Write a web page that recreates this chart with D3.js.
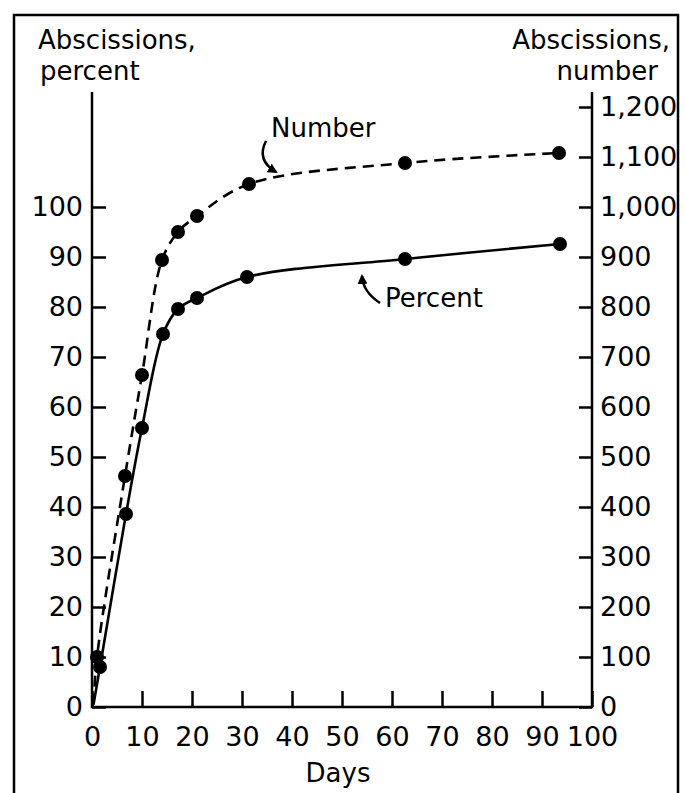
<!DOCTYPE html>
<html>
<head>
<meta charset="utf-8">
<script src="https://cdn.jsdelivr.net/npm/d3@7"></script>
<style>
  body { margin: 0; background: #fff; }
  svg text { font-family: "DejaVu Sans", sans-serif; fill: #000; }
</style>
</head>
<body>
<svg id="chart"></svg>
<script>
// data
const numberDays = [1, 6.6, 10, 14, 17.2, 21, 31.4, 62.6, 93.4];
const numberValues = [100, 462, 664, 894, 950, 982, 1046, 1088, 1108];
const percentDays = [1.6, 6.8, 10, 14.2, 17.2, 21, 31, 62.6, 93.6];
const percentValues = [8, 38.6, 55.8, 74.6, 79.6, 81.8, 86, 89.6, 92.6];
// both fitted curves start at the origin
const curveStart = [0.3, 0.5];

const dayTicks = [0, 10, 20, 30, 40, 50, 60, 70, 80, 90, 100];
const percentTicks = [0, 10, 20, 30, 40, 50, 60, 70, 80, 90, 100];
const numberTicks = [0, 100, 200, 300, 400, 500, 600, 700, 800, 900, 1000, 1100, 1200];

const width = 685, height = 793;

const svg = d3.select("#chart")
    .attr("width", width)
    .attr("height", height);

let x = d3.scaleLinear().domain([0, 100]).range([92, 592]);
let yPct = d3.scaleLinear().domain([0, 120]).range([707, 107]);
let yNum = d3.scaleLinear().domain([0, 1200]).range([707, 107]);

// frame
svg.append("rect")
    .attr("x", 14).attr("y", 15)
    .attr("width", 664).attr("height", 790)
    .attr("fill", "none")
    .attr("stroke", "#000")
    .attr("stroke-width", 2.5);

// axes
let xAxis = g => g
    .attr("transform", `translate(0,${yPct(0)})`)
    .call(d3.axisBottom(x).tickValues(dayTicks).tickSize(-16).tickPadding(20))
    .call(g => g.select(".domain").remove());

let leftAxis = g => g
    .attr("transform", `translate(${x(0)},0)`)
    .call(d3.axisLeft(yPct).tickValues(percentTicks).tickSize(-14).tickPadding(9))
    .call(g => g.select(".domain").remove());

let rightAxis = g => g
    .attr("transform", `translate(${x(100)},0)`)
    .call(d3.axisRight(yNum).tickValues(numberTicks).tickFormat(d3.format(",")).tickSize(-13).tickPadding(8))
    .call(g => g.select(".domain").remove());

[xAxis, leftAxis, rightAxis].forEach(ax => {
    let g = svg.append("g").call(ax);
    g.selectAll(".tick line").attr("stroke", "#000").attr("stroke-width", 2.5);
    g.selectAll(".tick text")
        .style("font-family", '"DejaVu Sans", sans-serif')
        .style("font-size", "27px");
    g.attr("font-family", null).attr("font-size", null);
});

// axis lines
svg.append("path")
    .attr("d", `M${x(0)},${yPct(123)}V${yPct(0)}H${x(100)}V${yPct(123)}`)
    .attr("fill", "none")
    .attr("stroke", "#000")
    .attr("stroke-width", 2.5);

// curves
let line = d3.line()
    .x(d => x(d[0]))
    .y(d => d[1])
    .curve(d3.curveCatmullRom.alpha(0.5));

let numberPts = [[curveStart[0], yNum(curveStart[1] * 10)]]
    .concat(numberDays.map((d, i) => [d, yNum(numberValues[i])]));
let percentPts = [[curveStart[0], yPct(curveStart[1])]]
    .concat(percentDays.map((d, i) => [d, yPct(percentValues[i])]));

svg.append("path")
    .attr("d", line(numberPts))
    .attr("fill", "none")
    .attr("stroke", "#000")
    .attr("stroke-width", 2.6)
    .attr("stroke-dasharray", "11,7");

svg.append("path")
    .attr("d", line(percentPts))
    .attr("fill", "none")
    .attr("stroke", "#000")
    .attr("stroke-width", 2.6);

// dots
svg.append("g")
    .selectAll("circle")
    .data(numberDays)
    .join("circle")
    .attr("cx", d => x(d))
    .attr("cy", (d, i) => yNum(numberValues[i]))
    .attr("r", 7);

svg.append("g")
    .selectAll("circle")
    .data(percentDays)
    .join("circle")
    .attr("cx", d => x(d))
    .attr("cy", (d, i) => yPct(percentValues[i]))
    .attr("r", 7);

// titles
svg.append("text").attr("x", 38).attr("y", 49).style("font-size", "26px").text("Abscissions,");
svg.append("text").attr("x", 40).attr("y", 80).style("font-size", "26px").text("percent");
svg.append("text").attr("x", 670).attr("y", 49).attr("text-anchor", "end").style("font-size", "26px").text("Abscissions,");
svg.append("text").attr("x", 658).attr("y", 80).attr("text-anchor", "end").style("font-size", "26px").text("number");
svg.append("text").attr("x", 338).attr("y", 782).attr("text-anchor", "middle").style("font-size", "26px").text("Days");

// curve labels with arrows
svg.append("defs").append("marker")
    .attr("id", "head")
    .attr("viewBox", "0 0 10 10")
    .attr("refX", 8).attr("refY", 5)
    .attr("markerWidth", 4).attr("markerHeight", 4)
    .attr("orient", "auto")
    .append("path").attr("d", "M0,0L10,5L0,10z");

svg.append("text").attr("x", 271).attr("y", 137).style("font-size", "26px").text("Number");
svg.append("path")
    .attr("d", "M266,141 Q256,160 276,172")
    .attr("fill", "none").attr("stroke", "#000").attr("stroke-width", 2.5)
    .attr("marker-end", "url(#head)");

svg.append("text").attr("x", 385).attr("y", 307).style("font-size", "26px").text("Percent");
svg.append("path")
    .attr("d", "M380,303 Q363,292 362,276")
    .attr("fill", "none").attr("stroke", "#000").attr("stroke-width", 2.5)
    .attr("marker-end", "url(#head)");
</script>
</body>
</html>
